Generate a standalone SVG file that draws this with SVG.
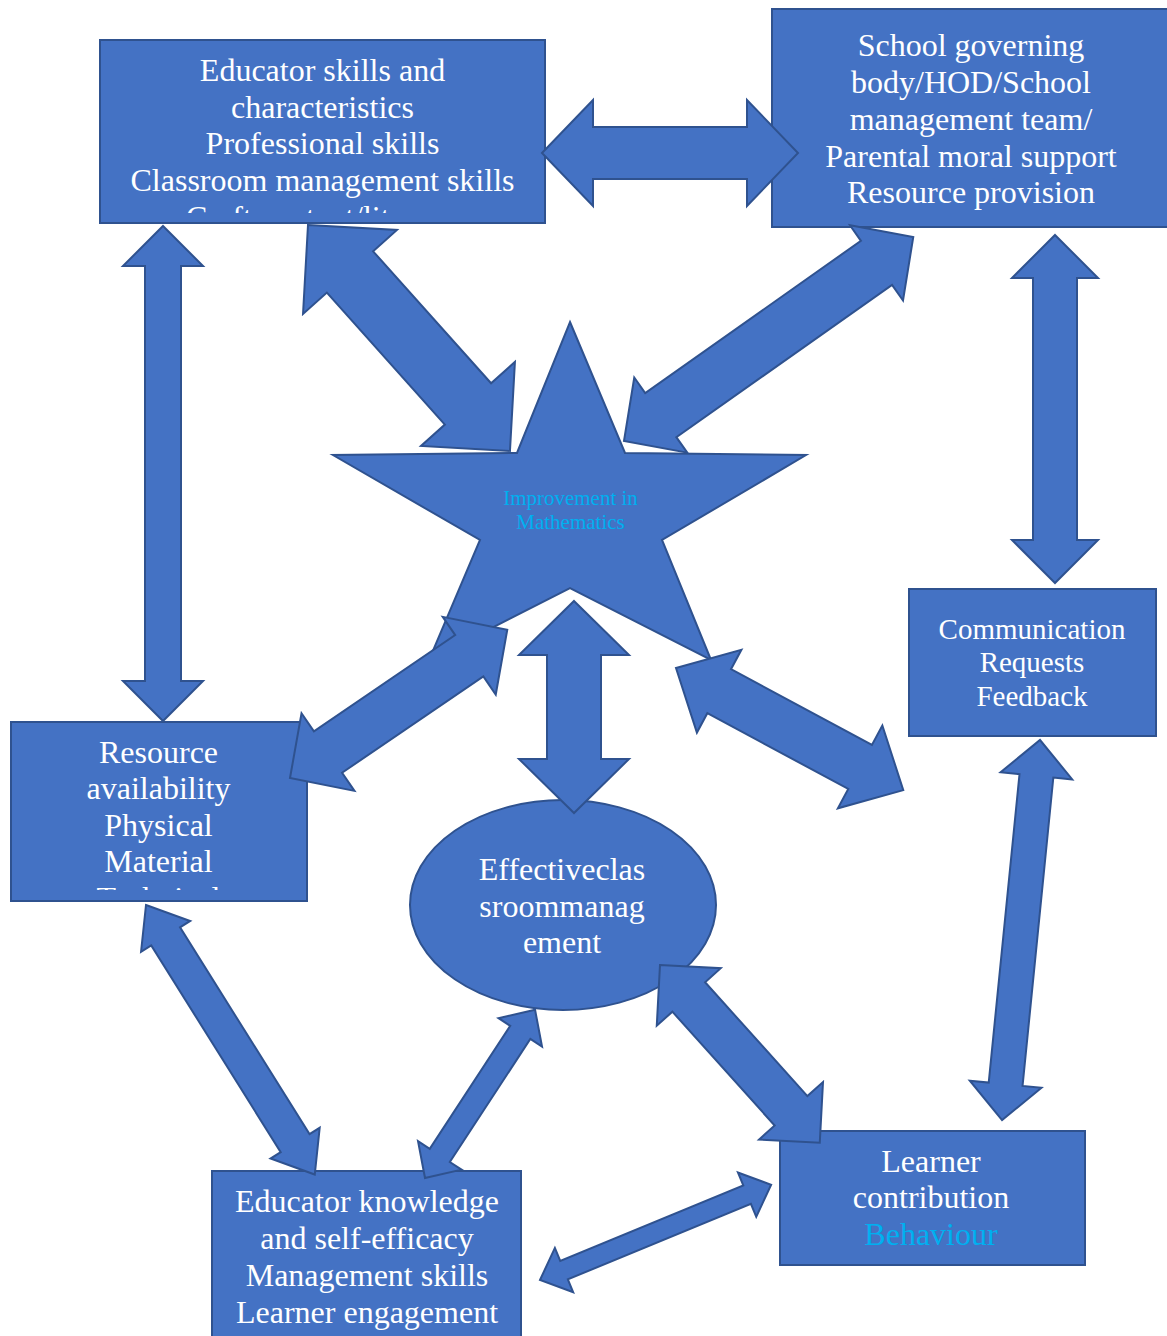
<svg xmlns="http://www.w3.org/2000/svg" width="1167" height="1336" viewBox="0 0 1167 1336">
<defs>
<style>
.n{fill:#4472C4;stroke:#2F528F;stroke-width:2}
.a{fill:#4472C4;stroke:#2F528F;stroke-width:2;stroke-linejoin:miter}
.t{font-family:"Liberation Serif","Times New Roman",serif;font-size:32px;fill:#FFFFFF;text-anchor:middle}
.s{font-size:29px}
.m{font-size:21px}
.c{fill:#00B0F0}
</style>
<clipPath id="clipEdu"><rect x="100" y="40" width="445" height="173"/></clipPath>
<clipPath id="clipRes"><rect x="11" y="722" width="296" height="168"/></clipPath>
</defs>
<rect width="1167" height="1336" fill="#FFFFFF"/>
<g id="node-educator-skills">
<rect class="n" x="100" y="40" width="445" height="183"/>
<g clip-path="url(#clipEdu)">
<text class="t" x="322.5" y="81">Educator skills and</text>
<text class="t" x="322.5" y="118">characteristics</text>
<text class="t" x="322.5" y="154">Professional skills</text>
<text class="t" x="322.5" y="191">Classroom management skills</text>
<text class="t" x="322.5" y="228">Craft content/literacy</text>
</g>
</g>
<g id="node-school">
<rect class="n" x="772" y="9" width="400" height="218"/>
<text class="t" x="971" y="56">School governing</text>
<text class="t" x="971" y="93">body/HOD/School</text>
<text class="t" x="971" y="130">management team/</text>
<text class="t" x="971" y="167">Parental moral support</text>
<text class="t" x="971" y="203">Resource provision</text>
</g>
<g id="node-star">
<polygon class="n" points="570,322 625,453 806,455 662,540 711,660 570,588 429,660 480,540 333,455 517,453"/>
<text class="t m c" x="570.5" y="505">Improvement in</text>
<text class="t m c" x="570.5" y="529">Mathematics</text>
</g>
<g id="node-communication">
<rect class="n" x="909" y="589" width="247" height="147"/>
<text class="t s" x="1032" y="639">Communication</text>
<text class="t s" x="1032" y="672">Requests</text>
<text class="t s" x="1032" y="706">Feedback</text>
</g>
<g id="node-resource">
<rect class="n" x="11" y="722" width="296" height="179"/>
<g clip-path="url(#clipRes)">
<text class="t" x="158.5" y="763">Resource</text>
<text class="t" x="158.5" y="799">availability</text>
<text class="t" x="158.5" y="836">Physical</text>
<text class="t" x="158.5" y="872">Material</text>
<text class="t" x="158.5" y="909">Technical</text>
</g>
</g>
<g id="node-effective">
<ellipse class="n" cx="563" cy="905" rx="153" ry="105"/>
<text class="t" x="562" y="880">Effectiveclas</text>
<text class="t" x="562" y="917">sroommanag</text>
<text class="t" x="562" y="953">ement</text>
</g>
<g id="node-educator-knowledge">
<rect class="n" x="212" y="1171" width="309" height="175"/>
<text class="t" x="367" y="1212">Educator knowledge</text>
<text class="t" x="367" y="1249">and self-efficacy</text>
<text class="t" x="367" y="1286">Management skills</text>
<text class="t" x="367" y="1323">Learner engagement</text>
</g>
<g id="node-learner">
<rect class="n" x="780" y="1131" width="305" height="134"/>
<text class="t" x="931" y="1172">Learner</text>
<text class="t" x="931" y="1208">contribution</text>
<text class="t c" x="931" y="1245">Behaviour</text>
</g>
<g id="connectors">
<polygon class="a" transform="translate(542,153)" points="0,0 51,-53 51,-26 205,-26 205,-53 256,0 205,53 205,26 51,26 51,53"/>
<polygon class="a" transform="translate(163,226) rotate(90)" points="0,0 40,-40 40,-18 455,-18 455,-40 495,0 455,40 455,18 40,18 40,40"/>
<polygon class="a" transform="translate(1055,235) rotate(90)" points="0,0 43,-43 43,-22 305,-22 305,-43 348,0 305,43 305,22 43,22 43,43"/>
<polygon class="a" transform="translate(308,225) rotate(48.2)" points="0,0 63,-63 63,-31 240,-31 240,-63 303,0 240,63 240,31 63,31 63,63"/>
<polygon class="a" transform="translate(624,441) rotate(-35.2)" points="0,0 45,-46 45,-27 309,-27 309,-46 354,0 309,46 309,27 45,27 45,46"/>
<polygon class="a" transform="translate(290,778) rotate(-34.3)" points="0,0 46,-47 46,-25 217,-25 217,-47 263,0 217,47 217,25 46,25 46,47"/>
<polygon class="a" transform="translate(574,601) rotate(90)" points="0,0 54,-55 54,-27 158,-27 158,-55 212,0 158,55 158,27 54,27 54,55"/>
<polygon class="a" transform="translate(676,668) rotate(28.25)" points="0,0 49,-47 49,-25 209,-25 209,-47 258,0 209,47 209,25 49,25 49,47"/>
<polygon class="a" transform="translate(1040,740) rotate(95.7)" points="0,0 36,-36 36,-17 346,-17 346,-36 382,0 346,36 346,17 36,17 36,36"/>
<polygon class="a" transform="translate(146,905) rotate(57.95)" points="0,0 37,-29 37,-17 281,-17 281,-29 318,0 281,29 281,17 37,17 37,29"/>
<polygon class="a" transform="translate(425,1178) rotate(-56.8)" points="0,0 27,-26 27,-12 174,-12 174,-26 201,0 174,26 174,12 27,12 27,26"/>
<polygon class="a" transform="translate(660,965) rotate(48.05)" points="0,0 43,-43 43,-22 196,-22 196,-43 239,0 196,43 196,22 43,22 43,43"/>
<polygon class="a" transform="translate(540,1280) rotate(-22.4)" points="0,0 26,-24 26,-10 224,-10 224,-24 250,0 224,24 224,10 26,10 26,24"/>
</g>
</svg>
